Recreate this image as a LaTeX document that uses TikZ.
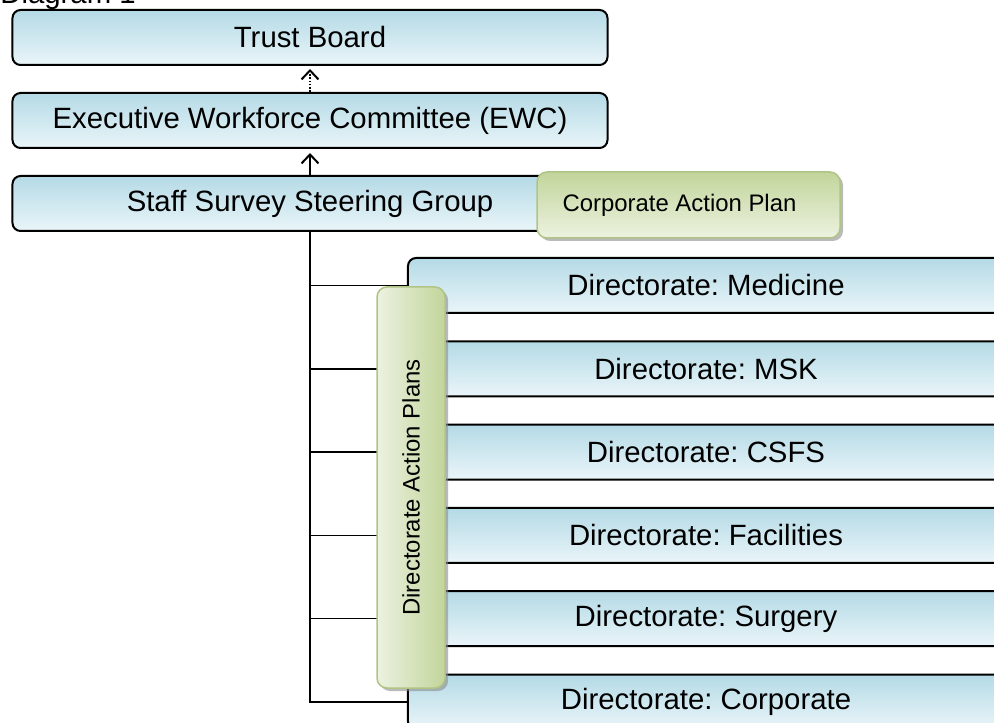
\documentclass[tikz,border=0pt]{standalone}
\usepackage{fontspec}
\setmainfont{Liberation Sans}
\usetikzlibrary{arrows.meta,shadows}
\frenchspacing

\definecolor{bluetop}{RGB}{180,218,230}
\definecolor{bluebot}{RGB}{234,245,249}
\definecolor{greendark}{RGB}{194,213,155}
\definecolor{greenlight}{RGB}{236,242,224}
\definecolor{greenline}{RGB}{176,196,134}

\begin{document}
\begin{tikzpicture}[x=0.2mm, y=-0.2mm,
    unit/.style={rectangle, rounded corners=1.6mm, draw=black, line width=0.4mm, top color=bluetop, bottom color=bluebot, minimum height=11mm, inner sep=0pt, font=\fontsize{16.7}{20}\selectfont},
    plan/.style={rectangle, rounded corners=2mm, draw=greenline, line width=0.3mm, inner sep=0pt, drop shadow={shadow xshift=0.6mm, shadow yshift=-0.6mm, fill=black!45, opacity=0.6}},
    plantext/.style={inner sep=0pt, font=\fontsize{13.6}{16}\selectfont},
    link/.style={line width=0.3mm},
    tip/.style={-{Straight Barb[length=1.8mm, width=3.4mm, line width=0.4mm]}}]

    \useasboundingbox (0,0) rectangle (994,723);

    \node [anchor=base west, inner sep=0pt, font=\fontsize{16.7}{20}\selectfont] (title) at (0,4) {Diagram 1};

    \node [unit, minimum width=119mm] (trust) at (310,37.5) {Trust Board};
    \node [unit, minimum width=119mm] (ewc) at (310,120.5) {Executive Workforce Committee (EWC)};
    \node [unit, minimum width=119mm] (staff) at (310,203.5) {Staff Survey Steering Group};
    \node [plan, top color=greendark, bottom color=greenlight, minimum width=60.6mm, minimum height=13.2mm] (cap) at (688.5,205) {};
    \node [plantext, xshift=-1.8mm] (captext) at (cap) {Corporate Action Plan};

    \draw [link, densely dotted, tip, shorten >=0.6mm] (ewc) -- (trust);
    \draw [link, tip, shorten >=0.8mm] (staff) -- (ewc);

    \foreach \unitname [count=\i] in {Medicine, MSK, CSFS, Facilities, Surgery, Corporate}
        \node [unit, minimum width=119.2mm] (d\i) at (706,202.2+83.3*\i) {Directorate: \unitname};
    \foreach \i in {1,...,6}
        \draw [link] (staff.south) |- (d\i.west);

    \node [plan, left color=greenlight, right color=greendark, minimum width=13.6mm, minimum height=80.2mm] (dap) at (411,487.5) {};
    \node [plantext, rotate=90] (daptext) at (dap) {Directorate Action Plans};

\end{tikzpicture}
\end{document}
